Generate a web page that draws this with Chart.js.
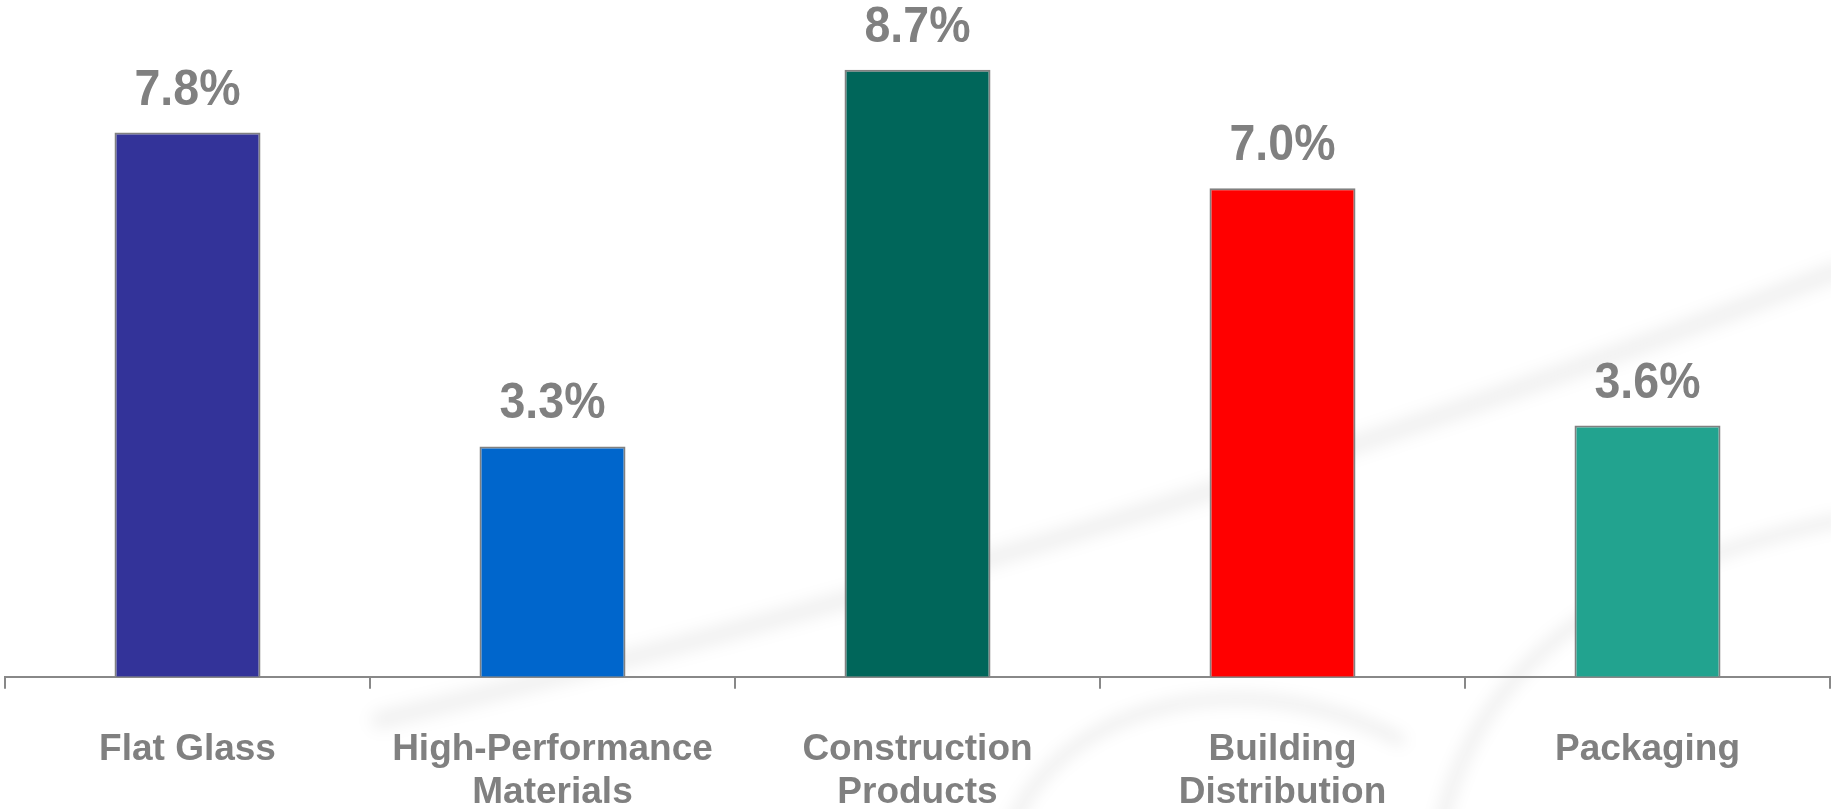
<!DOCTYPE html>
<html>
<head>
<meta charset="utf-8">
<script src="https://cdn.jsdelivr.net/npm/chart.js@4.4.1/dist/chart.umd.min.js"></script>
<style>
  html, body { margin: 0; padding: 0; background: #fff; overflow: hidden; height: 809px; }
  #wrap { position: relative; width: 1831px; height: 854px; }
</style>
</head>
<body>
<div id="wrap"><canvas id="growthChart"></canvas></div>
<script>
const segments = [["Flat Glass"], ["High-Performance", "Materials"], ["Construction", "Products"], ["Building", "Distribution"], ["Packaging"]];
const growth = [7.8, 3.3, 8.7, 7.0, 3.6];
const barColors = ["#333399", "#0066cc", "#00665a", "#ff0000", "#22a38f"];

const FONT = '"Liberation Sans", Arial, sans-serif';
const GREY = "#808080";

// faint swooshes of the slide background
const backdrop = {
  id: "backdrop",
  beforeDraw(chart) {
    const c = chart.ctx;
    c.save();
    c.filter = "blur(8px)";
    c.strokeStyle = "rgba(0,0,0,0.06)";
    c.lineCap = "round";
    c.lineWidth = 18;
    c.beginPath();
    c.moveTo(380, 720);
    c.bezierCurveTo(800, 620, 1300, 480, 1840, 270);
    c.stroke();
    c.strokeStyle = "rgba(0,0,0,0.08)";
    c.lineWidth = 10;
    c.beginPath();
    c.moveTo(1010, 830);
    c.bezierCurveTo(1060, 700, 1250, 660, 1400, 740);
    c.stroke();
    c.beginPath();
    c.moveTo(1440, 830);
    c.bezierCurveTo(1480, 640, 1650, 560, 1840, 520);
    c.stroke();
    c.restore();
  }
};

// percentage written above each bar
const valueLabels = {
  id: "valueLabels",
  afterDatasetsDraw(chart) {
    const c = chart.ctx;
    const meta = chart.getDatasetMeta(0);
    c.save();
    c.fillStyle = GREY;
    c.font = "bold 50px " + FONT;
    c.textAlign = "center";
    c.textBaseline = "alphabetic";
    meta.data.forEach((bar, i) => {
      c.save();
      c.translate(bar.x, bar.y - 28);
      c.scale(0.93, 1);
      c.fillText(growth[i].toFixed(1) + "%", 0, 0);
      c.restore();
    });
    c.restore();
  }
};

const ctx = document.getElementById("growthChart");

new Chart(ctx, {
  type: "bar",
  data: {
    labels: segments,
    datasets: [
      {
        data: growth,
        backgroundColor: barColors,
        borderColor: GREY,
        borderWidth: 2,
        barPercentage: 0.4,
        categoryPercentage: 1,
      },
    ],
  },
  options: {
    responsive: true,
    maintainAspectRatio: false,
    animation: false,
    layout: { padding: { left: 5, right: 1, top: 0, bottom: 0 } },
    plugins: {
      legend: { display: false },
      tooltip: { enabled: false },
    },
    scales: {
      x: {
        offset: true,
        grid: { offset: true, drawOnChartArea: false, drawTicks: true, tickLength: 12, color: "#888", lineWidth: 2 },
        border: { display: true, color: "#888", width: 2 },
        ticks: {
          color: GREY,
          font: { family: FONT, size: 37, weight: "bold", lineHeight: 1.18 },
          padding: 39,
          maxRotation: 0,
          autoSkip: false,
        },
      },
      y: { display: false, min: 0, max: 9.7 },
    },
  },
  plugins: [backdrop, valueLabels],
});
</script>
</body>
</html>
